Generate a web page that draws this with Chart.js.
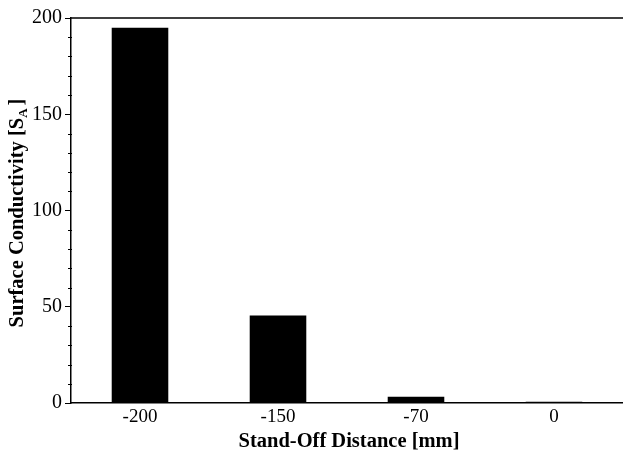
<!DOCTYPE html>
<html>
<head>
<meta charset="utf-8">
<script src="https://cdn.jsdelivr.net/npm/chart.js@4/dist/chart.umd.min.js"></script>
<style>
  html, body { margin: 0; padding: 0; background: #fff; }
  #wrap { width: 623px; height: 453px; }
</style>
</head>
<body>
<div id="wrap"><canvas id="grafico"></canvas></div>
<script>
const distancias = ['-200', '-150', '-70', '0'];
const conductividad = [195, 45.5, 3.3, 0.7];
const ticksY = [0, 50, 100, 150, 200];
const ticksMenores = [10, 20, 30, 40, 60, 70, 80, 90, 110, 120, 130, 140, 160, 170, 180, 190];

// Ejes extra: borde superior, ticks menores y títulos (con subíndice)
const extras = {
  id: 'extras',
  afterDraw(chart) {
    const ctx = chart.ctx;
    const area = chart.chartArea;
    const y = chart.scales.y;
    ctx.save();
    ctx.strokeStyle = '#000';
    ctx.lineWidth = 1.5;
    ctx.beginPath();
    ctx.moveTo(area.left, area.top);
    ctx.lineTo(chart.width, area.top);
    ctx.stroke();

    ctx.lineWidth = 1;
    ticksMenores.forEach(v => {
      const py = Math.round(y.getPixelForValue(v)) + 0.5;
      ctx.beginPath();
      ctx.moveTo(area.left - 3, py);
      ctx.lineTo(area.left + 1, py);
      ctx.stroke();
    });

    ctx.fillStyle = '#000';
    // título eje X
    ctx.font = 'bold 20.5px "Liberation Serif"';
    ctx.textAlign = 'center';
    ctx.textBaseline = 'alphabetic';
    ctx.fillText('Stand-Off Distance [mm]', 349, 447);

    // título eje Y con subíndice
    const parte1 = 'Surface Conductivity [S';
    const sub = 'A';
    const parte2 = ']';
    ctx.font = 'bold 20.5px "Liberation Serif"';
    const w1 = ctx.measureText(parte1).width;
    const w3 = ctx.measureText(parte2).width;
    ctx.font = 'bold 13px "Liberation Serif"';
    const w2 = ctx.measureText(sub).width;
    const total = w1 + w2 + w3 + 3;
    ctx.translate(23, 213);
    ctx.rotate(-Math.PI / 2);
    ctx.textAlign = 'left';
    let x0 = -total / 2;
    ctx.font = 'bold 20.5px "Liberation Serif"';
    ctx.fillText(parte1, x0, 0);
    ctx.font = 'bold 13px "Liberation Serif"';
    ctx.fillText(sub, x0 + w1, 4);
    ctx.font = 'bold 20.5px "Liberation Serif"';
    ctx.fillText(parte2, x0 + w1 + w2 + 3, 0);
    ctx.restore();
  }
};

new Chart(document.getElementById('grafico'), {
  type: 'bar',
  data: {
    labels: distancias,
    datasets: [{
      data: conductividad,
      backgroundColor: '#000',
      borderWidth: 0,
      categoryPercentage: 1,
      barPercentage: 0.41
    }]
  },
  options: {
    responsive: true,
    maintainAspectRatio: false,
    animation: false,
    layout: { padding: { left: 0, right: 0, top: 18, bottom: 0 } },
    plugins: {
      legend: { display: false },
      tooltip: { enabled: false }
    },
    scales: {
      x: {
        offset: true,
        grid: { display: true, drawOnChartArea: false, drawTicks: false },
        border: { display: true, color: '#000', width: 1.5 },
        ticks: { color: '#000', padding: 3, font: { family: 'Liberation Serif', size: 19 } },
        afterFit(s) { s.height = 50; }
      },
      y: {
        min: 0,
        max: 200,
        afterBuildTicks(s) { s.ticks = ticksY.map(v => ({ value: v })); },
        grid: { drawOnChartArea: false, tickLength: 6, color: '#000', lineWidth: 1 },
        border: { display: true, color: '#000', width: 1.5 },
        ticks: { color: '#000', padding: 3, font: { family: 'Liberation Serif', size: 20 } },
        afterFit(s) { s.width = 71; }
      }
    }
  },
  plugins: [extras]
});
</script>
</body>
</html>
